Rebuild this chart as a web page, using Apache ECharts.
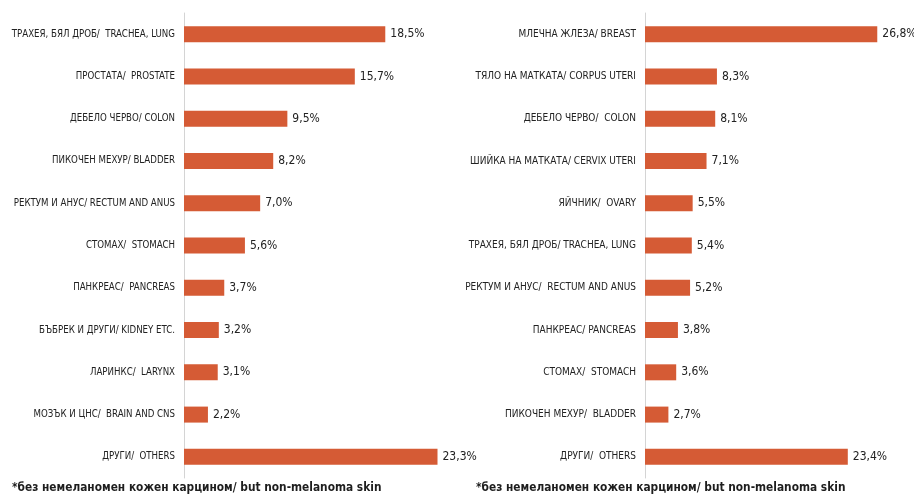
<!DOCTYPE html>
<html>
<head>
<meta charset="utf-8">
<script src="https://cdn.jsdelivr.net/npm/echarts@6/dist/echarts.min.js"></script>
<style>
  html, body { margin: 0; padding: 0; background: #fff; }
  #chart { width: 914px; height: 500px; }
</style>
</head>
<body>
<div id="chart"></div>
<script>
// Men: cancer sites and share of new cases (%)
const menSites = [
  'ТРАХЕЯ, БЯЛ ДРОБ/  TRACHEA, LUNG',
  'ПРОСТАТА/  PROSTATE',
  'ДЕБЕЛО ЧЕРВО/ COLON',
  'ПИКОЧЕН МЕХУР/ BLADDER',
  'РЕКТУМ И АНУС/ RECTUM AND ANUS',
  'СТОМАХ/  STOMACH',
  'ПАНКРЕАС/  PANCREAS',
  'БЪБРЕК И ДРУГИ/ KIDNEY ETC.',
  'ЛАРИНКС/  LARYNX',
  'МОЗЪК И ЦНС/  BRAIN AND CNS',
  'ДРУГИ/  OTHERS'
];
const menValues = [18.5, 15.7, 9.5, 8.2, 7.0, 5.6, 3.7, 3.2, 3.1, 2.2, 23.3];

// Women: cancer sites and share of new cases (%)
const womenSites = [
  'МЛЕЧНА ЖЛЕЗА/ BREAST',
  'ТЯЛО НА МАТКАТА/ CORPUS UTERI',
  'ДЕБЕЛО ЧЕРВО/  COLON',
  'ШИЙКА НА МАТКАТА/ CERVIX UTERI',
  'ЯЙЧНИК/  OVARY',
  'ТРАХЕЯ, БЯЛ ДРОБ/ TRACHEA, LUNG',
  'РЕКТУМ И АНУС/  RECTUM AND ANUS',
  'ПАНКРЕАС/ PANCREAS',
  'СТОМАХ/  STOMACH',
  'ПИКОЧЕН МЕХУР/  BLADDER',
  'ДРУГИ/  OTHERS'
];
const womenValues = [26.8, 8.3, 8.1, 7.1, 5.5, 5.4, 5.2, 3.8, 3.6, 2.7, 23.4];

const footnote = '*без немеланомен кожен карцином/ but non-melanoma skin';

const barColor = '#d55b35';
const textColor = '#222';
const condFont = '"DejaVu Sans Condensed", sans-serif';

function pct(v) { return v.toFixed(1).replace('.', ',') + '%'; }

function yAxisFor(idx, cats, size) {
  return {
    type: 'category', gridIndex: idx, data: cats, inverse: true,
    axisLine: { show: true, lineStyle: { color: '#d4d4d4', width: 1 } },
    axisTick: { show: false },
    axisLabel: { color: textColor, fontFamily: condFont, fontSize: size, margin: 9 }
  };
}
function xAxisFor(idx, max) {
  return {
    type: 'value', gridIndex: idx, min: 0, max: max,
    show: false, splitLine: { show: false }
  };
}
function seriesFor(idx, values) {
  return {
    type: 'bar', xAxisIndex: idx, yAxisIndex: idx, data: values,
    barWidth: 16,
    itemStyle: { color: barColor },
    label: {
      show: true, position: 'right', distance: 5,
      color: textColor, fontFamily: condFont, fontSize: 12,
      formatter: p => pct(p.value)
    },
    silent: true
  };
}

const chart = echarts.init(document.getElementById('chart'), null, { renderer: 'canvas' });
chart.setOption({
  animation: false,
  backgroundColor: '#fff',
  grid: [
    { left: 184, top: 13, width: 272, height: 465, containLabel: false, outerBoundsMode: 'none' },
    { left: 645, top: 13, width: 260, height: 465, containLabel: false, outerBoundsMode: 'none' }
  ],
  xAxis: [xAxisFor(0, 25), xAxisFor(1, 30)],
  yAxis: [yAxisFor(0, menSites, 9.6), yAxisFor(1, womenSites, 10)],
  series: [seriesFor(0, menValues), seriesFor(1, womenValues)],
  graphic: [
    { type: 'text', left: 12, top: 482,
      style: { text: footnote, fill: '#1e1e1e', font: 'bold 11.8px "DejaVu Sans Condensed", sans-serif' } },
    { type: 'text', left: 476, top: 482,
      style: { text: footnote, fill: '#1e1e1e', font: 'bold 11.8px "DejaVu Sans Condensed", sans-serif' } }
  ]
});
</script>
</body>
</html>
